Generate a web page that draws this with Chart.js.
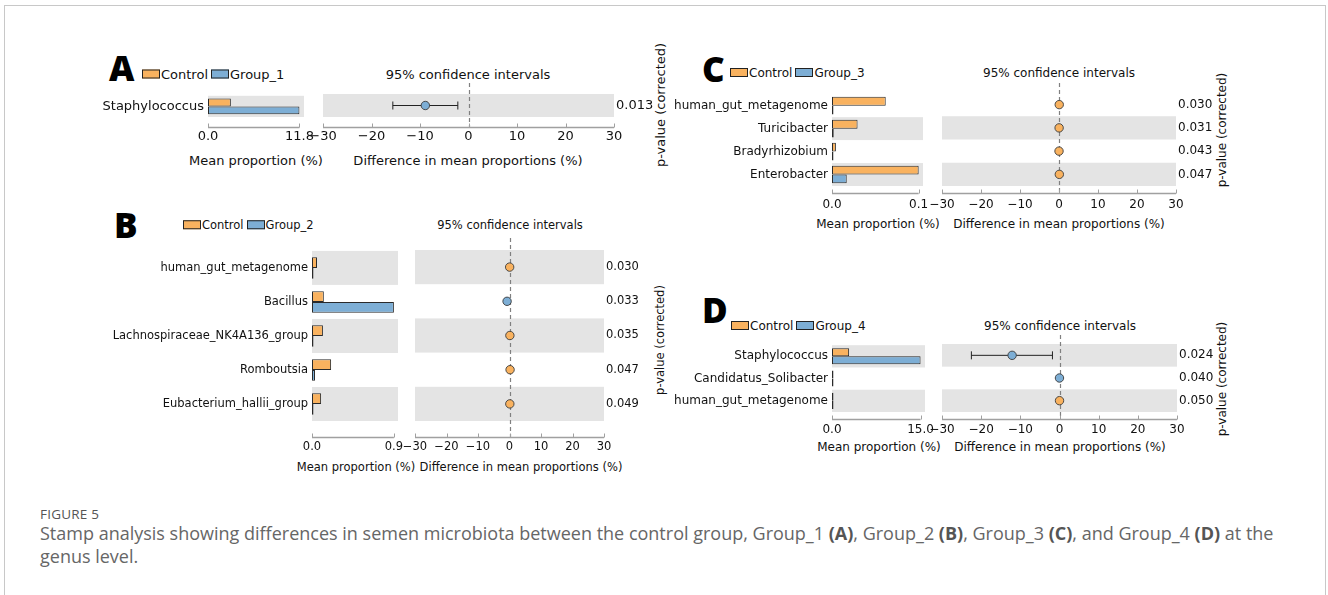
<!DOCTYPE html>
<html><head><meta charset="utf-8">
<script src="https://cdn.jsdelivr.net/npm/chart.js@4/dist/chart.umd.min.js"></script>
<style>
html,body{margin:0;padding:0;background:#fff;}
#page{position:relative;width:1328px;height:595px;overflow:hidden;background:#fff;}
#frame{position:absolute;left:4px;top:5px;width:1322px;height:640px;border:1px solid #c8c8c8;box-sizing:border-box;}
.t{position:absolute;white-space:nowrap;line-height:1;font-family:'DejaVu Sans',sans-serif;color:#111;}
.c{transform:translate(-50%,-50%);}
.lm{transform:translate(0,-50%);}
.rot{transform:translate(-50%,-50%) rotate(-90deg);}
.letter{position:absolute;font-family:'Open Sans','Liberation Sans',sans-serif;font-weight:800;line-height:1;color:#000;}
canvas{position:absolute;}
.sw{display:inline-block;width:16px;height:7px;border:1px solid #222;vertical-align:middle;margin-right:1px;position:relative;top:-1px;}
.cap{position:absolute;left:40px;font-family:'Open Sans',sans-serif;color:#666;white-space:nowrap;}
.cap b{color:#555;}
</style></head>
<body><div id="page"><div id="frame"></div></div>
<script>
// ===================== DATA =====================
const diffTicks = [-30, -20, -10, 0, 10, 20, 30];

// Panel A : Control vs Group_1
const taxaA = ['Staphylococcus'];
const controlA = [2.95];
const groupA = [11.8];
const diffA = [-8.9];
const ciLowA = [-15.6];
const ciHighA = [-2.2];
const pValuesA = ['0.013'];
const barTicksA = [0, 11.8];

// Panel B : Control vs Group_2
const taxaB = ['human_gut_metagenome', 'Bacillus', 'Lachnospiraceae_NK4A136_group', 'Romboutsia', 'Eubacterium_hallii_group'];
const controlB = [0.055, 0.13, 0.12, 0.21, 0.10];
const groupB = [0.002, 0.90, 0.002, 0.033, 0.004];
const diffB = [0.05, -0.77, 0.12, 0.18, 0.10];
const ciLowB = [null, null, null, null, null];
const ciHighB = [null, null, null, null, null];
const pValuesB = ['0.030', '0.033', '0.035', '0.047', '0.049'];
const barTicksB = [0, 0.9];

// Panel C : Control vs Group_3
const taxaC = ['human_gut_metagenome', 'Turicibacter', 'Bradyrhizobium', 'Enterobacter'];
const controlC = [0.062, 0.0295, 0.0045, 0.10];
const groupC = [0, 0.002, 0, 0.017];
const diffC = [0.062, 0.028, 0.0045, 0.083];
const ciLowC = [null, null, null, null];
const ciHighC = [null, null, null, null];
const pValuesC = ['0.030', '0.031', '0.043', '0.047'];
const barTicksC = [0, 0.1];

// Panel D : Control vs Group_4
const taxaD = ['Staphylococcus', 'Candidatus_Solibacter', 'human_gut_metagenome'];
const controlD = [2.9, 0, 0.004];
const groupD = [15.0, 0.008, 0];
const diffD = [-12.1, -0.008, 0.004];
const ciLowD = [-22.5, null, null];
const ciHighD = [-1.8, null, null];
const pValuesD = ['0.024', '0.040', '0.050'];
const barTicksD = [0, 15.0];

// ===================== STYLE / LAYOUT =====================
const ORANGE = '#F9B25F';
const BLUE = '#7DAED5';
const BAND = '#e4e4e4';
Chart.defaults.font.family = "'DejaVu Sans', sans-serif";
Chart.defaults.color = '#111';

const page = document.getElementById('page');
function addText(cls, html, x, y, size, extra) {
  const d = document.createElement('div');
  d.className = 't ' + cls;
  d.innerHTML = html;
  d.style.left = x + 'px';
  d.style.top = y + 'px';
  d.style.fontSize = size + 'px';
  if (extra) Object.assign(d.style, extra);
  page.appendChild(d);
  return d;
}
function addCanvas(left, top, w, h) {
  const c = document.createElement('canvas');
  c.width = w; c.height = h;
  c.style.left = left + 'px'; c.style.top = top + 'px';
  c.style.width = w + 'px'; c.style.height = h + 'px';
  page.appendChild(c);
  return c;
}

const bandPlugin = {
  id: 'bands',
  beforeDatasetsDraw(chart) {
    const {ctx, chartArea: a, scales: {y}} = chart;
    const n = chart.data.labels.length;
    const h = (a.bottom - a.top) / n;
    ctx.save();
    ctx.fillStyle = BAND;
    for (let i = 0; i < n; i++) {
      if ((n - 1 - i) % 2 === 0) {
        const c = y.getPixelForValue(i);
        ctx.fillRect(a.left, c - h / 2, a.right - a.left, h);
      }
    }
    ctx.restore();
  }
};
const spinePlugin = {
  id: 'spine',
  afterDraw(chart, args, opts) {
    const {ctx, chartArea: a, scales: {x}} = chart;
    const yy = Math.round(a.bottom + opts.offset) + 0.5;
    const ticks = opts.ticks;
    ctx.save();
    ctx.strokeStyle = '#a0a0a0';
    ctx.lineWidth = 1.5;
    ctx.beginPath();
    ctx.moveTo(x.getPixelForValue(ticks[0]), yy);
    ctx.lineTo(x.getPixelForValue(ticks[ticks.length - 1]), yy);
    ctx.stroke();
    ctx.lineWidth = 1;
    ticks.forEach(t => {
      const px = Math.round(x.getPixelForValue(t)) + 0.5;
      ctx.beginPath(); ctx.moveTo(px, yy); ctx.lineTo(px, yy - 4); ctx.stroke();
    });
    ctx.restore();
  }
};
const zeroPlugin = {
  id: 'zero',
  beforeDatasetsDraw(chart, args, opts) {
    const {ctx, chartArea: a, scales: {x}} = chart;
    const px = Math.round(x.getPixelForValue(0)) + 0.5;
    ctx.save();
    ctx.strokeStyle = '#808080';
    ctx.lineWidth = 1.2;
    ctx.setLineDash([4, 3]);
    ctx.beginPath();
    ctx.moveTo(px, a.top - opts.extTop);
    ctx.lineTo(px, a.bottom + opts.extBottom);
    ctx.stroke();
    ctx.restore();
  },
  afterDraw(chart, args, opts) {
    const {ctx, chartArea: a, scales: {y}} = chart;
    ctx.save();
    ctx.font = opts.font + "px 'DejaVu Sans', sans-serif";
    ctx.fillStyle = '#111';
    ctx.textAlign = 'left';
    ctx.textBaseline = 'middle';
    opts.pvalues.forEach((p, i) => ctx.fillText(p, a.right + 2, y.getPixelForValue(i)));
    ctx.restore();
  }
};

function fmtDiff(v) { return v < 0 ? '\u2212' + Math.abs(v) : String(v); }

function buildPanel(d, L) {
  const XH = 45;
  const lt = document.createElement('div');
  lt.className = 'letter'; lt.textContent = L.letter;
  lt.style.left = L.letterX + 'px'; lt.style.top = L.letterY + 'px'; lt.style.fontSize = L.letterSize + 'px';
  page.appendChild(lt);
  addText('lm', '<span class="sw" style="background:' + ORANGE + '"></span>Control<span class="sw" style="background:' + BLUE + ';margin-left:3px"></span>' + d.groupName, L.legendX, L.legendY, L.font);
  addText('c', '95% confidence intervals', L.ciTitleX, L.legendY, L.font);
  addText('c', 'Mean proportion (%)', L.meanX, L.axTitleY, L.font);
  addText('c', 'Difference in mean proportions (%)', L.diffX, L.axTitleY, L.font);
  addText('rot', 'p-value (corrected)', L.pLabX, L.pLabY, L.font);

  const xTicksCommon = {font: {size: L.font}, color: '#111', padding: 0, autoSkip: false, maxRotation: 0, minRotation: 0};
  const xGrid = {display: false, drawTicks: true, tickLength: L.tickPad};

  // ---- bar chart ----
  const bLeft = L.barL - L.labelW, bTop = L.top - 10, bW = (L.barR + 30) - bLeft, bH = (L.bottom - bTop) + XH;
  const barMax = d.barTicks[d.barTicks.length - 1];
  new Chart(addCanvas(bLeft, bTop, bW, bH), {
    type: 'bar',
    data: {
      labels: d.taxa,
      datasets: [
        {label: 'Control', data: d.control, backgroundColor: ORANGE, borderColor: '#2a2a2a', borderWidth: 1, borderSkipped: false, minBarLength: 1.5, categoryPercentage: L.barPct, barPercentage: 1},
        {label: d.groupName, data: d.group, backgroundColor: BLUE, borderColor: '#2a2a2a', borderWidth: 1, borderSkipped: false, minBarLength: 1.5, categoryPercentage: L.barPct, barPercentage: 1}
      ]
    },
    options: {
      indexAxis: 'y', responsive: false, animation: false, devicePixelRatio: 1, events: [],
      layout: {padding: {left: 0, right: 30, top: 10, bottom: 0}},
      plugins: {legend: {display: false}, tooltip: {enabled: false}, spine: {offset: L.spineOff, ticks: d.barTicks}},
      scales: {
        y: {type: 'category', grid: {display: false, drawTicks: false}, border: {display: false},
            ticks: {font: {size: L.font}, color: '#111', padding: 4, autoSkip: false},
            afterFit: s => { s.width = L.labelW; }},
        x: {type: 'linear', min: 0, max: barMax * 1.05,
            afterBuildTicks: s => { s.ticks = d.barTicks.map(v => ({value: v})); },
            grid: xGrid, border: {display: false},
            ticks: Object.assign({}, xTicksCommon, {callback: v => Number(v).toFixed(1)}),
            afterFit: s => { s.height = XH; }}
      }
    },
    plugins: [bandPlugin, spinePlugin]
  });

  // ---- confidence-interval chart ----
  const cLeft = L.ciL - 20, cTop = L.top - 20, cW = (L.ciR + 50) - cLeft, cH = (L.bottom - cTop) + XH;
  const datasets = [{
    data: d.taxa.map((t, i) => ({x: d.diff[i], y: t})),
    showLine: false, pointRadius: 4.2, pointBorderWidth: 0.9, pointBorderColor: '#3a3a3a',
    pointBackgroundColor: d.diff.map(v => v < 0 ? BLUE : ORANGE)
  }];
  d.taxa.forEach((t, i) => {
    if (d.ciLow[i] != null) {
      datasets.push({data: [{x: d.ciLow[i], y: t}, {x: d.ciHigh[i], y: t}], showLine: true, fill: false,
        borderColor: '#222', borderWidth: 1, pointStyle: 'line', pointRotation: 90, pointRadius: 4,
        pointBorderColor: '#222', pointBorderWidth: 1});
    }
  });
  new Chart(addCanvas(cLeft, cTop, cW, cH), {
    type: 'line',
    data: {labels: d.taxa, datasets},
    options: {
      responsive: false, animation: false, devicePixelRatio: 1, events: [],
      layout: {padding: {left: 20, right: 50, top: 20, bottom: 0}},
      plugins: {legend: {display: false}, tooltip: {enabled: false},
        spine: {offset: L.spineOff, ticks: diffTicks},
        zero: {extTop: L.dashTop, extBottom: L.spineOff, font: L.font, pvalues: d.pvalues}},
      scales: {
        y: {type: 'category', display: false, offset: true},
        x: {type: 'linear', min: -30, max: 30,
            afterBuildTicks: s => { s.ticks = diffTicks.map(v => ({value: v})); },
            grid: xGrid, border: {display: false},
            ticks: Object.assign({}, xTicksCommon, {callback: v => fmtDiff(v)}),
            afterFit: s => { s.height = XH; }}
      }
    },
    plugins: [bandPlugin, zeroPlugin, spinePlugin]
  });
}

buildPanel({taxa: taxaA, control: controlA, group: groupA, diff: diffA, ciLow: ciLowA, ciHigh: ciHighA, pvalues: pValuesA, barTicks: barTicksA, groupName: 'Group_1'},
  {letter: 'A', letterX: 109, letterY: 50, letterSize: 35, font: 13, top: 94, bottom: 117, barL: 208, barR: 304, ciL: 323, ciR: 614,
   spineOff: 10, tickPad: 12, labelW: 112, barPct: 0.74, legendX: 142, legendY: 74, ciTitleX: 468, axTitleY: 160, meanX: 256, diffX: 468,
   pLabX: 660, pLabY: 105, dashTop: 11});

buildPanel({taxa: taxaB, control: controlB, group: groupB, diff: diffB, ciLow: ciLowB, ciHigh: ciHighB, pvalues: pValuesB, barTicks: barTicksB, groupName: 'Group_2'},
  {letter: 'B', letterX: 114, letterY: 207, letterSize: 35, font: 11.5, top: 250, bottom: 421, barL: 312, barR: 398, ciL: 415, ciR: 604,
   spineOff: 16, tickPad: 19, labelW: 210, barPct: 0.63, legendX: 183, legendY: 226, ciTitleX: 510, axTitleY: 468, meanX: 356, diffX: 521,
   pLabX: 661, pLabY: 340, dashTop: 12});

buildPanel({taxa: taxaC, control: controlC, group: groupC, diff: diffC, ciLow: ciLowC, ciHigh: ciHighC, pvalues: pValuesC, barTicks: barTicksC, groupName: 'Group_3'},
  {letter: 'C', letterX: 702, letterY: 51, letterSize: 35, font: 12, top: 93, bottom: 186, barL: 832, barR: 923, ciL: 942, ciR: 1176,
   spineOff: 7, tickPad: 12, labelW: 170, barPct: 0.77, legendX: 730, legendY: 73, ciTitleX: 1059, axTitleY: 224, meanX: 878, diffX: 1059,
   pLabX: 1222, pLabY: 130, dashTop: 10});

buildPanel({taxa: taxaD, control: controlD, group: groupD, diff: diffD, ciLow: ciLowD, ciHigh: ciHighD, pvalues: pValuesD, barTicks: barTicksD, groupName: 'Group_4'},
  {letter: 'D', letterX: 702, letterY: 292, letterSize: 35, font: 12, top: 344, bottom: 412, barL: 832, barR: 925, ciL: 942, ciR: 1177,
   spineOff: 7, tickPad: 11, labelW: 170, barPct: 0.72, legendX: 731, legendY: 326, ciTitleX: 1060, axTitleY: 447, meanX: 879, diffX: 1060,
   pLabX: 1222, pLabY: 379, dashTop: 9});

// ===================== CAPTION =====================
const f5 = document.createElement('div');
f5.className = 'cap'; f5.textContent = 'FIGURE 5';
Object.assign(f5.style, {top: '505px', fontSize: '13.5px', color: '#555', letterSpacing: '0.2px'});
page.appendChild(f5);
const cap = document.createElement('div');
cap.className = 'cap';
cap.innerHTML = 'Stamp analysis showing differences in semen microbiota between the control group, Group_1 <b>(A)</b>, Group_2 <b>(B)</b>, Group_3 <b>(C)</b>, and Group_4 <b>(D)</b> at the<br>genus level.';
Object.assign(cap.style, {top: '522px', fontSize: '18px', lineHeight: '23px'});
page.appendChild(cap);
</script>
</body></html>
